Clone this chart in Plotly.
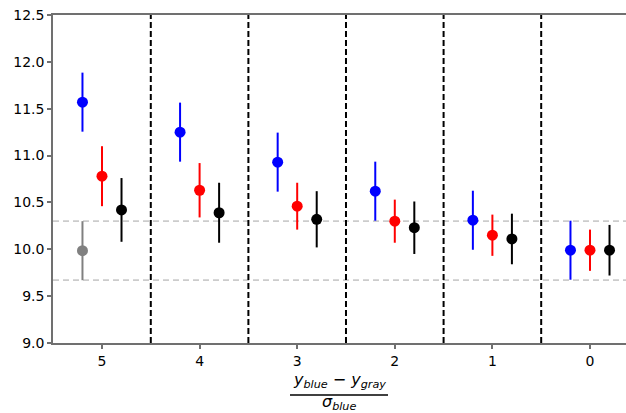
import plotly.graph_objects as go

# Group labels (left to right) and their slot positions on the x axis
group_labels = ["5", "4", "3", "2", "1", "0"]
group_pos = [0, 1, 2, 3, 4, 5]

# Blue estimate per group with its uncertainty
blue_vals = [11.57, 11.25, 10.93, 10.62, 10.31, 9.99]
blue_errs = [0.315, 0.315, 0.315, 0.315, 0.315, 0.315]

# Red estimate per group
red_vals = [10.78, 10.63, 10.46, 10.30, 10.15, 9.99]
red_errs = [0.32, 0.29, 0.25, 0.23, 0.22, 0.22]

# Black estimate per group
black_vals = [10.42, 10.39, 10.32, 10.23, 10.11, 9.99]
black_errs = [0.34, 0.32, 0.30, 0.28, 0.27, 0.27]

# Gray reference point (first group only)
gray_val = 9.985
gray_err = 0.315

offset = 0.2
font_family = "DejaVu Sans"

fig = go.Figure()


def add_series(xs, ys, errs, color):
    fig.add_trace(go.Scatter(
        x=xs, y=ys, mode="markers",
        marker=dict(color=color, size=11, line=dict(width=0)),
        error_y=dict(type="data", array=errs, visible=True,
                     color=color, thickness=2, width=0),
        showlegend=False, hoverinfo="skip",
    ))


add_series([group_pos[0] - offset], [gray_val], [gray_err], "#808080")
add_series([p - offset for p in group_pos], blue_vals, blue_errs, "#0000ff")
add_series(group_pos, red_vals, red_errs, "#ff0000")
add_series([p + offset for p in group_pos], black_vals, black_errs, "#000000")

# Band of the gray reference (value +/- uncertainty)
for level in (gray_val + gray_err, gray_val - gray_err):
    fig.add_shape(type="line", xref="paper", x0=0, x1=1, yref="y",
                  y0=level, y1=level, layer="below",
                  line=dict(color="#cccccc", width=1.8, dash="6px,4px"))

# Separators between groups
for p in group_pos[:-1]:
    fig.add_shape(type="line", xref="x", x0=p + 0.5, x1=p + 0.5,
                  yref="paper", y0=0, y1=1, layer="above",
                  line=dict(color="#000000", width=2, dash="6px,3px"))

# x-axis label as a stacked fraction
plot_h = 328.0
plot_w = 573.0
fig.add_annotation(
    text="<i>y</i><sub><i>blue</i></sub> \u2212 <i>y</i><sub><i>gray</i></sub>",
    xref="paper", yref="paper", x=(339 - 53) / plot_w, y=-(380 - 343) / plot_h,
    showarrow=False, font=dict(family=font_family, size=16, color="#000000"),
    xanchor="center", yanchor="middle",
)
fig.add_shape(type="line", xref="paper", yref="paper",
              x0=(290 - 53) / plot_w, x1=(388 - 53) / plot_w,
              y0=-(395 - 343) / plot_h, y1=-(395 - 343) / plot_h,
              line=dict(color="#000000", width=1.5))
fig.add_annotation(
    text="<i>\u03c3</i><sub><i>blue</i></sub>",
    xref="paper", yref="paper", x=(339 - 53) / plot_w, y=-(402 - 343) / plot_h,
    showarrow=False, font=dict(family=font_family, size=16, color="#000000"),
    xanchor="center", yanchor="middle",
)

fig.update_layout(
    width=626, height=413,
    margin=dict(l=53, r=0, t=15, b=70),
    paper_bgcolor="white", plot_bgcolor="white",
    font=dict(family=font_family, size=14, color="#000000"),
    xaxis=dict(
        range=[-0.502, 5.369],
        tickmode="array", tickvals=group_pos, ticktext=group_labels,
        showgrid=False, zeroline=False,
        showline=True, linecolor="#707070", linewidth=1.5, mirror=True,
        ticks="outside", ticklen=4, tickwidth=1.5, tickcolor="#707070",
    ),
    yaxis=dict(
        range=[9.0, 12.5],
        tickmode="array",
        tickvals=[9.0, 9.5, 10.0, 10.5, 11.0, 11.5, 12.0, 12.5],
        ticktext=["9.0", "9.5", "10.0", "10.5", "11.0", "11.5", "12.0", "12.5"],
        showgrid=False, zeroline=False,
        showline=True, linecolor="#707070", linewidth=1.5,
        ticks="outside", ticklen=4, tickwidth=1.5, tickcolor="#707070",
    ),
)

fig.write_html("out.html")
